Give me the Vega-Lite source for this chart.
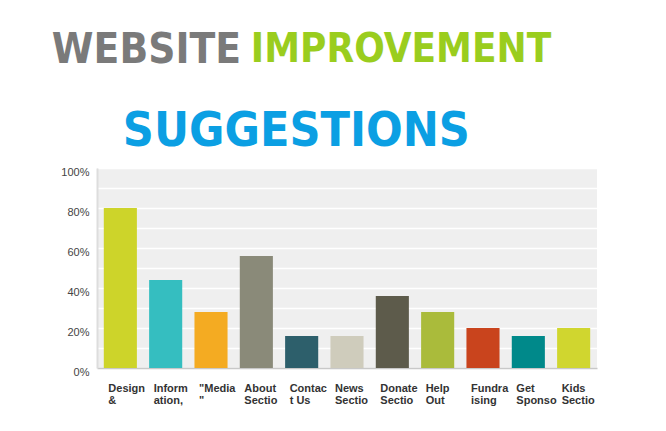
{
  "$schema": "https://vega.github.io/schema/vega-lite/v6.json",
  "padding": {"left": 51, "top": 29, "right": 5, "bottom": 5},
  "background": "white",
  "title": {
    "text": "WEBSITE",
    "color": "#7a7a7a",
    "font": "DejaVu Sans Condensed",
    "fontWeight": "bold",
    "fontSize": 42,
    "anchor": "start",
    "frame": "bounds",
    "dx": -9,
    "dy": 42,
    "offset": 0
  },
  "vconcat": [
    {
      "title": {
        "text": "IMPROVEMENT",
        "color": "#9acd1e",
        "font": "DejaVu Sans Condensed",
        "fontWeight": "bold",
        "fontSize": 40,
        "anchor": "start",
        "frame": "bounds",
        "dx": 190,
        "offset": 38
      },
      "vconcat": [
        {
          "title": {
            "text": "SUGGESTIONS",
            "color": "#0b9fe3",
            "font": "DejaVu Sans Condensed",
            "fontWeight": "bold",
            "fontSize": 48,
            "anchor": "start",
            "frame": "bounds",
            "dx": 62,
            "offset": 10
          },
          "width": 500,
          "height": 200,
          "data": {
            "values": [
              {"label": "Design|&", "pct": 80},
              {"label": "Inform|ation,", "pct": 44},
              {"label": "\"Media|\"", "pct": 28},
              {"label": "About|Sectio", "pct": 56},
              {"label": "Contac|t Us", "pct": 16},
              {"label": "News|Sectio", "pct": 16},
              {"label": "Donate|Sectio", "pct": 36},
              {"label": "Help|Out", "pct": 28},
              {"label": "Fundra|ising", "pct": 20},
              {"label": "Get| Sponso", "pct": 16},
              {"label": "Kids|Sectio", "pct": 20}
            ]
          },
          "mark": {"type": "bar"},
          "encoding": {
            "x": {
              "field": "label",
              "type": "nominal",
              "sort": null,
              "scale": {"paddingInner": 0.27, "paddingOuter": 0.15},
              "axis": {
                "title": null,
                "labelAngle": 0,
                "labelExpr": "split(datum.label, '|')",
                "labelAlign": "left",
                "labelBaseline": "top",
                "labelOffset": -12,
                "labelPadding": 14,
                "labelLineHeight": 12,
                "labelFont": "Liberation Sans",
                "labelFontWeight": "bold",
                "labelFontSize": 11,
                "labelColor": "#333333",
                "labelOverlap": false,
                "labelBound": false,
                "labelFlush": false,
                "ticks": false,
                "domainColor": "#c8c8c8",
                "domainWidth": 1.5
              }
            },
            "y": {
              "field": "pct",
              "type": "quantitative",
              "scale": {"domain": [0, 100], "nice": false},
              "axis": {
                "title": null,
                "values": [0, 10, 20, 30, 40, 50, 60, 70, 80, 90, 100],
                "labelExpr": "datum.value % 20 == 0 ? datum.value + '%' : ''",
                "labelFont": "Liberation Sans",
                "labelFontSize": 11,
                "labelColor": "#444444",
                "labelPadding": 8,
                "labelOffset": 4,
                "ticks": false,
                "grid": true,
                "gridColor": "#ffffff",
                "gridWidth": 1.5,
                "domainColor": "#dddddd",
                "domainWidth": 2
              }
            },
            "color": {
              "field": "label",
              "type": "nominal",
              "sort": null,
              "legend": null,
              "scale": {
                "range": ["#cdd42a", "#35bec0", "#f4ab22", "#8a8a79", "#2d5f6b", "#cfccbc", "#5d5b4b", "#aabb3b", "#c9441d", "#00898a", "#d0d62f"]
              }
            }
          }
        }
      ]
    }
  ],
  "config": {
    "view": {"fill": "#efefef", "stroke": null},
    "concat": {"spacing": 0}
  }
}
